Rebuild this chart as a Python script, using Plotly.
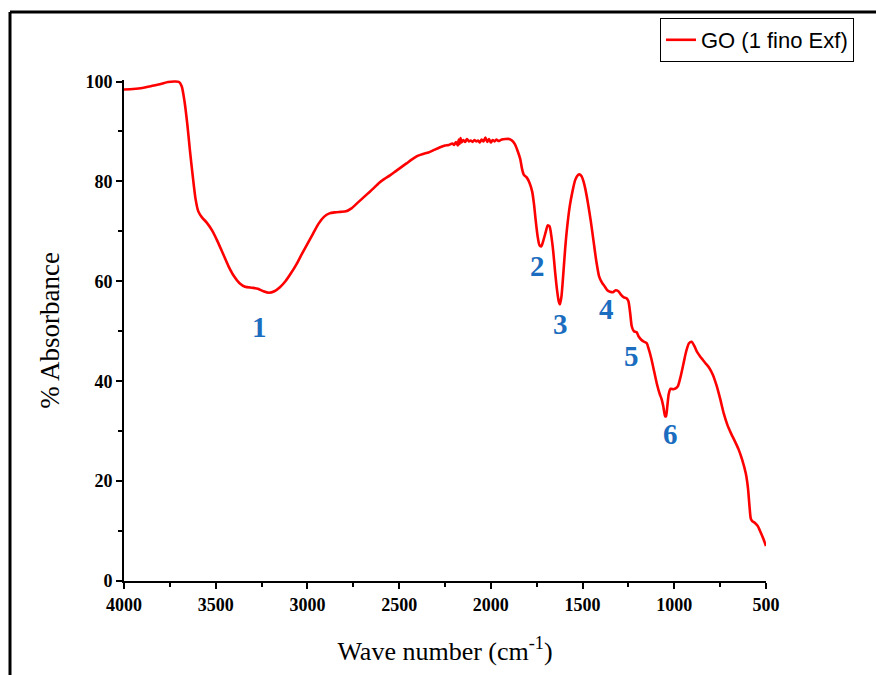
import plotly.graph_objects as go

# FTIR spectrum of GO (1 fino Exf): wavenumber (cm-1) vs % absorbance
wavenumber = [
    4000, 3950, 3900, 3850, 3800, 3760, 3720, 3700, 3685, 3670, 3655, 3640, 3625,
    3610, 3595, 3575, 3550, 3520, 3490, 3460, 3430, 3400, 3370, 3340, 3300, 3270,
    3240, 3210, 3180, 3150, 3120, 3090, 3060, 3030, 3000, 2970, 2940, 2910, 2880,
    2850, 2820, 2790, 2760, 2730, 2700, 2670, 2640, 2610, 2580, 2550, 2520, 2490,
    2460, 2430, 2400, 2370, 2340, 2310, 2280, 2250, 2230, 2210, 2200, 2190, 2180,
    2175, 2170, 2165, 2160, 2150, 2140, 2130, 2120, 2110, 2100, 2090, 2080, 2070,
    2060, 2050, 2040, 2030, 2020, 2010, 2000, 1990, 1980, 1970, 1960, 1950, 1940,
    1920, 1900, 1885, 1870, 1855, 1840, 1830, 1820, 1805, 1790, 1775, 1765, 1755,
    1745, 1735, 1725, 1715, 1700, 1690, 1680, 1670, 1660, 1650, 1640, 1630, 1623,
    1615, 1605, 1595, 1585, 1570, 1555, 1540, 1525, 1515, 1505, 1495, 1485, 1470,
    1455, 1440, 1425, 1410, 1395, 1380, 1365, 1350, 1335, 1320, 1305, 1290, 1275,
    1260, 1250, 1240, 1232, 1220, 1205, 1195, 1180, 1165, 1150, 1140, 1125, 1110,
    1095, 1080, 1070, 1060, 1050, 1045, 1038, 1030, 1020, 1005, 990, 980, 965,
    950, 935, 920, 905, 890, 875, 860, 845, 830, 810, 790, 770, 750, 730, 710,
    690, 670, 650, 630, 610, 598, 590, 583, 575, 560, 545, 530, 515, 500,
]
absorbance = [
    98.4, 98.5, 98.7, 99.1, 99.5, 99.9, 100.0, 99.9, 99.0, 96.0, 91.5, 86.0, 81.0,
    76.5, 74.0, 72.8, 71.8, 70.2, 68.0, 65.5, 63.0, 61.0, 59.6, 58.9, 58.7, 58.5,
    58.0, 57.7, 58.0, 58.8, 60.0, 61.6, 63.4, 65.5, 67.5, 69.5, 71.5, 72.9, 73.6,
    73.8, 73.9, 74.0, 74.6, 75.6, 76.6, 77.6, 78.6, 79.7, 80.5, 81.2, 82.0, 82.8,
    83.6, 84.4, 85.1, 85.5, 85.8, 86.3, 86.8, 87.2, 87.3, 87.6, 87.3, 87.9, 87.2,
    88.4, 87.5, 88.7, 87.8, 88.3, 87.9, 88.5, 88.0, 88.2, 87.9, 88.3, 88.0, 88.2,
    87.8, 88.4, 88.0, 88.8, 87.9, 88.5, 87.8, 88.3, 88.0, 88.4, 88.1, 88.2, 88.4,
    88.5, 88.5, 88.2, 87.5, 86.2, 84.5, 82.5, 81.3, 80.8, 79.8, 78.0, 75.5, 72.0,
    69.0, 67.2, 67.0, 68.0, 70.0, 71.2, 71.0, 69.0, 66.0, 62.0, 58.5, 56.0, 55.4,
    57.0, 61.5, 66.5, 70.5, 75.0, 78.0, 80.3, 81.3, 81.4, 81.0, 80.0, 78.5, 75.5,
    72.0, 68.0, 64.0, 61.0, 59.8, 59.0, 58.2, 57.9, 57.8, 58.2, 58.0, 57.3, 56.8,
    56.6, 56.0, 53.5, 51.0, 50.0, 49.8, 49.0, 48.3, 47.9, 47.6, 46.5, 44.5, 42.0,
    39.5, 37.5, 36.5, 35.0, 33.0, 33.0, 35.0, 37.5, 38.5, 38.4, 38.6, 39.0, 41.0,
    43.5, 46.0, 47.6, 47.9, 47.0, 45.8, 45.0, 44.3, 43.6, 42.7, 41.3, 39.2, 36.5,
    33.5, 31.2, 29.5, 28.0, 26.4, 24.3, 21.5, 18.5, 15.0, 12.5, 12.0, 11.6, 11.0,
    9.8, 8.5, 7.0,
]

# Numbered band labels
band_labels = ["1", "2", "3", "4", "5", "6"]
band_x = [3259, 1748, 1618, 1372, 1236, 1023]
band_y = [50.9, 63.1, 51.5, 54.5, 45.1, 29.5]

x_ticks = [4000, 3500, 3000, 2500, 2000, 1500, 1000, 500]
y_ticks = [0, 20, 40, 60, 80, 100]

fig = go.Figure()
fig.add_trace(go.Scatter(
    x=wavenumber, y=absorbance, mode="lines",
    name="GO (1 fino Exf)",
    line=dict(color="#ff0000", width=2.6, shape="spline", smoothing=0.6),
))

for t, bx, by in zip(band_labels, band_x, band_y):
    fig.add_annotation(
        x=bx, y=by, text=t, showarrow=False,
        font=dict(family="Liberation Serif", size=29, color="#1a6dbf", weight="bold"),
    )

# Outer frame (left and top edges)
L, R, T, B, W, H = 124, 110, 80, 94, 876, 675
pw, ph = W - L - R, H - T - B


def px(x):
    return (x - L) / pw


def py(y):
    return (H - B - y) / ph


frame = dict(color="black", width=3)
fig.add_shape(type="line", xref="paper", yref="paper",
              x0=px(10), x1=px(10), y0=py(12), y1=py(690), line=frame)
fig.add_shape(type="line", xref="paper", yref="paper",
              x0=px(10), x1=px(890), y0=py(12), y1=py(12), line=frame)

axis_common = dict(
    showline=True, linecolor="black", linewidth=2,
    ticks="outside", ticklen=6, tickwidth=2, tickcolor="black",
    showgrid=False, zeroline=False, mirror=False, automargin=False,
    tickfont=dict(family="Liberation Serif", size=18, color="black", weight="bold"),
)

fig.update_xaxes(
    range=[4000, 500], tickvals=x_ticks,
    minor=dict(dtick=250, ticks="outside", ticklen=4, tickwidth=2, tickcolor="black"),
    title=dict(text="Wave number (cm<sup>-1</sup>)", standoff=28,
               font=dict(family="Liberation Serif", size=26, color="black")),
    **axis_common,
)
fig.update_yaxes(
    range=[0, 100.3], tickvals=y_ticks,
    minor=dict(dtick=10, ticks="outside", ticklen=4, tickwidth=2, tickcolor="black"),
    title=dict(text="% Absorbance", standoff=18,
               font=dict(family="Liberation Serif", size=27, color="black")),
    **axis_common,
)

fig.update_layout(
    width=W, height=H, autosize=False,
    margin=dict(l=L, r=R, t=T, b=B),
    paper_bgcolor="white", plot_bgcolor="white",
    showlegend=True,
    legend=dict(
        x=px(660), y=py(18), xanchor="left", yanchor="top",
        bordercolor="black", borderwidth=1, bgcolor="white",
        font=dict(family="Liberation Sans", size=22, color="black"),
        tracegroupgap=0, itemwidth=30,
    ),
)

fig.write_html("out.html")
